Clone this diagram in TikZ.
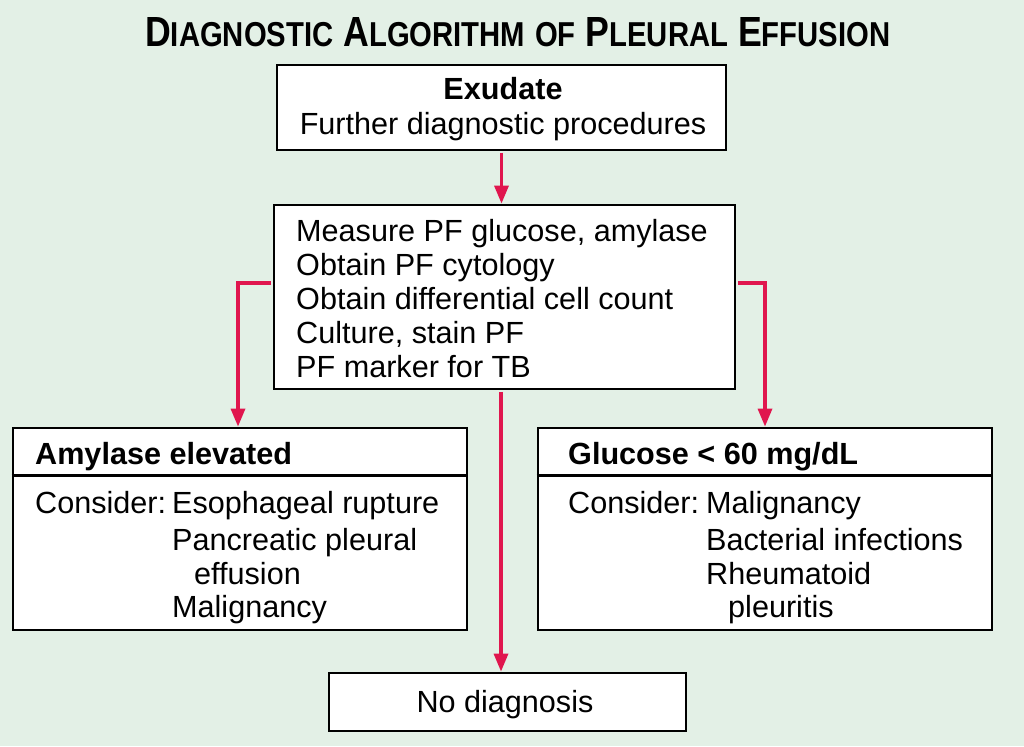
\documentclass[tikz,border=0pt]{standalone}
\usepackage{fontspec}
\setmainfont{Liberation Sans}
\usepackage{graphicx}
\usetikzlibrary{arrows.meta}
\definecolor{bgc}{RGB}{227,240,230}
\definecolor{arrc}{RGB}{224,22,78}
\newcommand{\smc}[1]{{\fontsize{24.6}{24.6}\selectfont #1}}
\begin{document}
\begin{tikzpicture}[x=1pt,y=-1pt,
  box/.style={draw=black,line width=2.8pt,fill=white,inner sep=0pt},
  txt/.style={inner sep=0pt,anchor=base west,font=\fontsize{30.6}{34}\selectfont},
  ctxt/.style={inner sep=0pt,anchor=base,font=\fontsize{30.6}{34}\selectfont},
  conn/.style={draw=arrc,line width=3.3pt,shorten <=1.4pt,-{Triangle[length=18pt,width=14pt]}}]
\fill[bgc] (0,0) rectangle (1024,746);
\useasboundingbox (0,0) rectangle (1024,746);

% title
\node[anchor=base west,inner sep=0pt] (title) at (145,47)
  {\resizebox{745pt}{29pt}{\fontsize{30}{30}\selectfont\bfseries D\smc{IAGNOSTIC} A\smc{LGORITHM} \smc{OF} P\smc{LEURAL} E\smc{FFUSION}}};

% boxes
\node[box,minimum width=449pt,minimum height=85pt] (exu) at (501.5,107.5) {};
\node[box,minimum width=461pt,minimum height=184pt] (mid) at (504.5,297) {};
\node[box,minimum width=454pt,minimum height=202pt] (left) at (240,529) {};
\node[box,minimum width=454pt,minimum height=202pt] (right) at (765,529) {};
\node[box,minimum width=357pt,minimum height=58pt] (nodiag) at (507.5,702) {};

\draw[line width=2.8pt] ([yshift=-49pt]left.north west) -- ([yshift=-49pt]left.north east);
\draw[line width=2.8pt] ([yshift=-49pt]right.north west) -- ([yshift=-49pt]right.north east);

% texts
\node[ctxt,font=\fontsize{30.6}{34}\selectfont\bfseries] (t1) at (503,100) {Exudate};
\node[ctxt] (t2) at (503,135) {Further diagnostic procedures};

\node[txt] (m1) at (296,241) {Measure PF glucose, amylase};
\node[txt] (m2) at (296,275) {Obtain PF cytology};
\node[txt] (m3) at (296,309) {Obtain differential cell count};
\node[txt] (m4) at (296,343) {Culture, stain PF};
\node[txt] (m5) at (296,377) {PF marker for TB};

\node[txt,font=\fontsize{30.6}{34}\selectfont\bfseries] (l0) at (35,464) {Amylase elevated};
\node[txt] (l1) at (35,513) {Consider:};
\node[txt] (l2) at (172,513) {Esophageal rupture};
\node[txt] (l3) at (172,550) {Pancreatic pleural};
\node[txt] (l4) at (194,584) {effusion};
\node[txt] (l5) at (172,617) {Malignancy};

\node[txt,font=\fontsize{30.6}{34}\selectfont\bfseries] (r0) at (568,464) {Glucose < 60 mg/dL};
\node[txt] (r1) at (568,513) {Consider:};
\node[txt] (r2) at (706,513) {Malignancy};
\node[txt] (r3) at (706,550) {Bacterial infections};
\node[txt] (r4) at (706,584) {Rheumatoid};
\node[txt] (r5) at (728,617) {pleuritis};

\node[ctxt] (n1) at (505,712) {No diagnosis};

% connectors
\draw[conn] (exu.south) -- (exu.south |- mid.north);
\draw[conn] ([yshift=14pt]mid.west) -| ([xshift=-2pt]left.north);
\draw[conn] ([yshift=14pt]mid.east) -| (right.north);
\draw[conn] ([xshift=-3.5pt]mid.south) -- ([xshift=-3.5pt]mid.south |- nodiag.north);
\end{tikzpicture}
\end{document}
